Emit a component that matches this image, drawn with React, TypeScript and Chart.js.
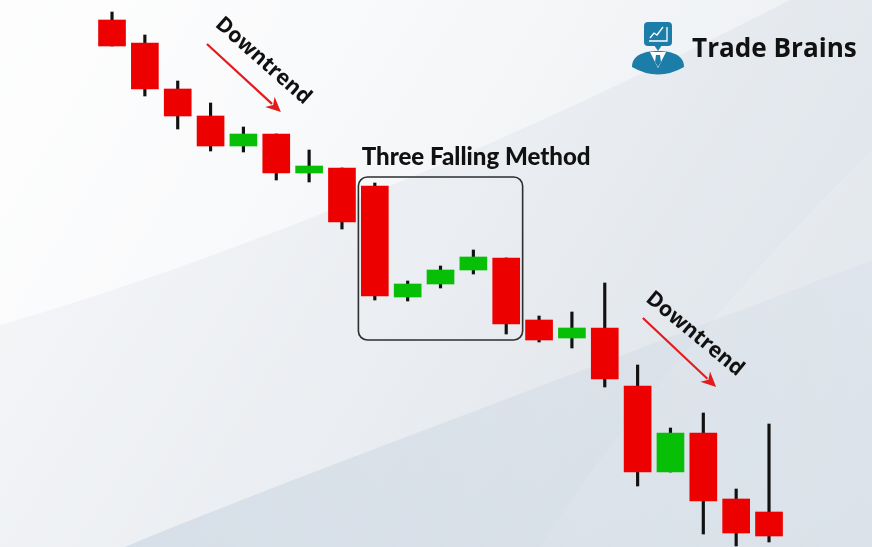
import React, { useEffect, useRef } from "react";
import { Chart, registerables } from "chart.js";

Chart.register(...registerables);

// ---- Data (price units) ----
const candleIndex = [0, 1, 2, 3, 4, 5, 6, 7, 8, 9, 10, 11, 12, 13, 14, 15, 16, 17, 18, 19, 20];
const opens = [580, 557, 511, 484, 454, 466, 427, 432, 414, 303, 316, 330, 342, 280, 262, 272, 214, 128, 167, 101, 88];
const closes = [554, 511, 484, 454, 466, 427, 434, 378, 304, 316, 330, 343, 276, 260, 272, 221, 128, 167, 99, 67, 64];
const highs = [588, 565, 519, 497, 473, 466, 450, 432, 417, 319, 334, 350, 342, 284, 288, 317, 235, 172, 187, 111, 176];
const lows = [554, 504, 471, 449, 448, 420, 418, 371, 300, 299, 312, 326, 266, 258, 252, 213, 114, 128, 66, 54, 58];

const trendLabel = "Downtrend";
const patternLabel = "Three Falling Method";
const brandLabel = "Trade Brains";

const RED = "#ec0000";
const GREEN = "#06bf06";
const INK = "#111111";

function drawBackground(ctx: CanvasRenderingContext2D, W: number, H: number) {
  const g = ctx.createLinearGradient(0, 0, W, H);
  g.addColorStop(0, "#f7f8fa");
  g.addColorStop(0.5, "#eaedf1");
  g.addColorStop(1, "#dbe2e9");
  ctx.fillStyle = g;
  ctx.fillRect(0, 0, W, H);

  // light swoosh top-left
  ctx.save();
  ctx.beginPath();
  ctx.moveTo(0, 0);
  ctx.lineTo(0, 325);
  ctx.bezierCurveTo(140, 285, 420, 190, 790, 0);
  ctx.closePath();
  const g2 = ctx.createLinearGradient(0, 0, 500, 300);
  g2.addColorStop(0, "rgba(255,255,255,0.8)");
  g2.addColorStop(1, "rgba(255,255,255,0.4)");
  ctx.fillStyle = g2;
  ctx.fill();
  ctx.restore();

  // lighter band right side
  ctx.save();
  ctx.beginPath();
  ctx.moveTo(872, 150);
  ctx.bezierCurveTo(760, 260, 620, 420, 540, 547);
  ctx.lineTo(872, 547);
  ctx.closePath();
  ctx.fillStyle = "rgba(255,255,255,0.15)";
  ctx.fill();
  ctx.restore();

  // darker bottom sweep
  ctx.save();
  ctx.beginPath();
  ctx.moveTo(125, 547);
  ctx.bezierCurveTo(260, 490, 560, 380, 872, 260);
  ctx.lineTo(872, 547);
  ctx.closePath();
  const g3 = ctx.createLinearGradient(0, 547, 872, 300);
  g3.addColorStop(0, "rgba(190,205,220,0.55)");
  g3.addColorStop(1, "rgba(200,212,224,0.2)");
  ctx.fillStyle = g3;
  ctx.fill();
  ctx.restore();
}

function fitFont(ctx: CanvasRenderingContext2D, text: string, width: number, family: string, weight: string) {
  ctx.font = `${weight} 20px ${family}`;
  const w = ctx.measureText(text).width;
  const size = (20 * width) / w;
  ctx.font = `${weight} ${size}px ${family}`;
}

function drawArrow(ctx: CanvasRenderingContext2D, x1: number, y1: number, x2: number, y2: number) {
  const ang = Math.atan2(y2 - y1, x2 - x1);
  const head = 15;
  const hw = 7;
  ctx.save();
  ctx.strokeStyle = "#e41b1b";
  ctx.fillStyle = "#e41b1b";
  ctx.lineWidth = 2.2;
  ctx.beginPath();
  ctx.moveTo(x1, y1);
  ctx.lineTo(x2 - Math.cos(ang) * head * 0.8, y2 - Math.sin(ang) * head * 0.8);
  ctx.stroke();
  ctx.translate(x2, y2);
  ctx.rotate(ang);
  ctx.beginPath();
  ctx.moveTo(0, 0);
  ctx.lineTo(-head, -hw);
  ctx.lineTo(-head * 0.7, 0);
  ctx.lineTo(-head, hw);
  ctx.closePath();
  ctx.fill();
  ctx.restore();
}

function drawRotatedText(ctx: CanvasRenderingContext2D, text: string, cx: number, cy: number, deg: number, width: number) {
  ctx.save();
  ctx.translate(cx, cy);
  ctx.rotate((deg * Math.PI) / 180);
  fitFont(ctx, text, width, "'Open Sans', sans-serif", "bold");
  ctx.fillStyle = INK;
  ctx.textAlign = "center";
  ctx.textBaseline = "middle";
  ctx.fillText(text, 0, 0);
  ctx.restore();
}

function drawLogo(ctx: CanvasRenderingContext2D) {
  const blue = "#1c7ea8";
  ctx.save();
  ctx.fillStyle = blue;
  ctx.beginPath();
  ctx.roundRect(644, 22, 28, 24, 4);
  ctx.fill();
  ctx.beginPath();
  ctx.moveTo(654, 45);
  ctx.lineTo(662, 45);
  ctx.lineTo(658, 51);
  ctx.closePath();
  ctx.fill();
  ctx.beginPath();
  ctx.moveTo(632, 67);
  ctx.bezierCurveTo(632, 55, 644, 51, 658, 51);
  ctx.bezierCurveTo(672, 51, 684, 55, 684, 67);
  ctx.quadraticCurveTo(658, 82, 632, 67);
  ctx.closePath();
  ctx.fill();
  ctx.fillStyle = "#ffffff";
  ctx.beginPath();
  ctx.moveTo(650, 52);
  ctx.lineTo(666, 52);
  ctx.lineTo(658, 68);
  ctx.closePath();
  ctx.fill();
  ctx.fillStyle = blue;
  ctx.beginPath();
  ctx.moveTo(656, 55);
  ctx.lineTo(660, 55);
  ctx.lineTo(661, 62);
  ctx.lineTo(658, 67);
  ctx.lineTo(655, 62);
  ctx.closePath();
  ctx.fill();
  ctx.strokeStyle = "#ffffff";
  ctx.lineWidth = 1.3;
  ctx.beginPath();
  ctx.moveTo(667, 27);
  ctx.lineTo(667, 41);
  ctx.lineTo(649, 41);
  ctx.stroke();
  ctx.beginPath();
  ctx.moveTo(650, 38);
  ctx.lineTo(654, 33);
  ctx.lineTo(657, 35);
  ctx.lineTo(663, 27);
  ctx.stroke();
  ctx.restore();

  ctx.save();
  fitFont(ctx, brandLabel, 165, "'Open Sans', sans-serif", "bold");
  ctx.fillStyle = INK;
  ctx.textAlign = "left";
  ctx.textBaseline = "alphabetic";
  ctx.fillText(brandLabel, 692, 57);
  ctx.restore();
}

const decorPlugin = {
  id: "decor",
  beforeDraw(chart: any) {
    drawBackground(chart.ctx, chart.width, chart.height);
  },
  afterDatasetsDraw(chart: any) {
    const ctx: CanvasRenderingContext2D = chart.ctx;
    const xs = chart.scales.x;
    const ys = chart.scales.y;
    const px = (v: number) => xs.getPixelForValue(v);
    const py = (v: number) => ys.getPixelForValue(v);

    // pattern box (candles 9-13)
    ctx.save();
    ctx.strokeStyle = "#2e2e2e";
    ctx.lineWidth = 1.6;
    ctx.beginPath();
    const bx1 = px(7.5), bx2 = px(12.5), by1 = py(423), by2 = py(260);
    ctx.roundRect(bx1, by1, bx2 - bx1, by2 - by1, 9);
    ctx.stroke();
    ctx.restore();

    ctx.save();
    fitFont(ctx, patternLabel, 229, "Lato, sans-serif", "900");
    ctx.fillStyle = INK;
    ctx.textAlign = "left";
    ctx.textBaseline = "alphabetic";
    ctx.fillText(patternLabel, px(7.6), py(435));
    ctx.restore();

    drawArrow(ctx, px(2.89), py(556), px(5.14), py(488));
    drawRotatedText(ctx, trendLabel, px(4.6), py(539), 41.5, 120);
    drawArrow(ctx, px(16.16), py(282), px(18.39), py(213));
    drawRotatedText(ctx, trendLabel, px(17.74), py(266), 39.5, 120);

    drawLogo(ctx);
  },
};

export default function App() {
  const ref = useRef<HTMLCanvasElement | null>(null);

  useEffect(() => {
    document.body.style.margin = "0";
    document.body.style.overflow = "hidden";
    const canvas = ref.current;
    if (!canvas) return;

    const bodyColors = candleIndex.map((i) => (closes[i] >= opens[i] ? GREEN : RED));

    const chart = new Chart(canvas, {
      type: "bar",
      data: {
        datasets: [
          {
            label: "wick",
            data: candleIndex.map((i) => ({ x: i, y: [lows[i], highs[i]] })) as any,
            backgroundColor: INK,
            barThickness: 2.5,
            grouped: false,
            order: 2,
          } as any,
          {
            label: "body",
            data: candleIndex.map((i) => ({ x: i, y: [opens[i], closes[i]] })) as any,
            backgroundColor: bodyColors,
            barThickness: 27,
            grouped: false,
            order: 1,
          } as any,
        ],
      },
      options: {
        animation: false,
        responsive: false,
        maintainAspectRatio: false,
        layout: { padding: 0 },
        plugins: { legend: { display: false }, tooltip: { enabled: false } },
        scales: {
          x: { type: "linear", min: -3.41, max: 23.135, offset: false, display: false },
          y: { type: "linear", min: 53, max: 600, display: false },
        },
      },
      plugins: [decorPlugin],
    });
    return () => chart.destroy();
  }, []);

  return (
    <div style={{ width: 872, height: 547, position: "relative", overflow: "hidden" }}>
      <canvas ref={ref} width={872} height={547} style={{ display: "block", width: 872, height: 547 }} />
    </div>
  );
}
